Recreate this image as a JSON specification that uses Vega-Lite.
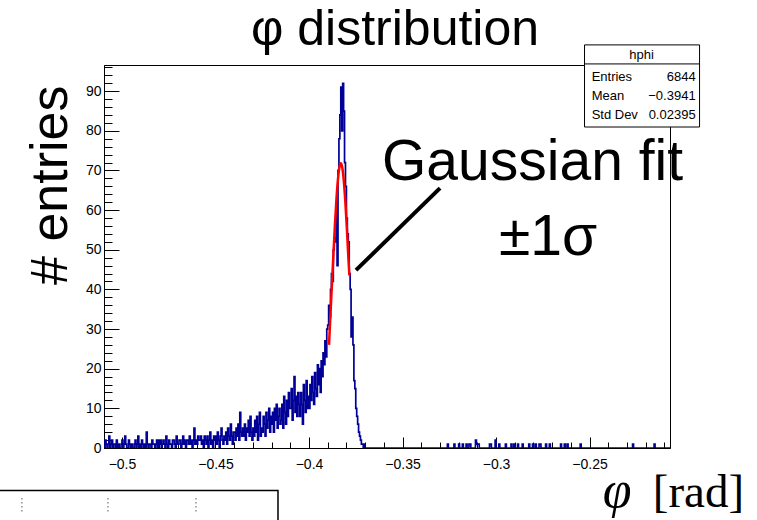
{
  "$schema": "https://vega.github.io/schema/vega-lite/v6.json",
  "width": 566,
  "height": 383,
  "autosize": {"type": "none"},
  "padding": {"left": 104, "top": 65, "right": 87, "bottom": 72},
  "background": "white",
  "title": {"text": "φ distribution", "fontSize": 50, "font": "Liberation Sans", "fontWeight": "normal", "color": "black", "offset": -11, "frame": "group", "anchor": "middle", "dx": 8},
  "datasets": {
    "hist": [
      {"x":-0.5100,"y":1},{"x":-0.5095,"y":0},{"x":-0.5090,"y":2},{"x":-0.5085,"y":1},{"x":-0.5080,"y":0},{"x":-0.5075,"y":1},{"x":-0.5070,"y":3},{"x":-0.5065,"y":0},{"x":-0.5060,"y":1},{"x":-0.5055,"y":2},
      {"x":-0.5050,"y":0},{"x":-0.5045,"y":1},{"x":-0.5040,"y":1},{"x":-0.5035,"y":0},{"x":-0.5030,"y":2},{"x":-0.5025,"y":0},{"x":-0.5020,"y":1},{"x":-0.5015,"y":0},{"x":-0.5010,"y":0},{"x":-0.5005,"y":1},
      {"x":-0.5000,"y":2},{"x":-0.4995,"y":0},{"x":-0.4990,"y":1},{"x":-0.4985,"y":3},{"x":-0.4980,"y":1},{"x":-0.4975,"y":0},{"x":-0.4970,"y":0},{"x":-0.4965,"y":2},{"x":-0.4960,"y":1},{"x":-0.4955,"y":0},
      {"x":-0.4950,"y":1},{"x":-0.4945,"y":0},{"x":-0.4940,"y":0},{"x":-0.4935,"y":1},{"x":-0.4930,"y":2},{"x":-0.4925,"y":0},{"x":-0.4920,"y":1},{"x":-0.4915,"y":3},{"x":-0.4910,"y":0},{"x":-0.4905,"y":1},
      {"x":-0.4900,"y":0},{"x":-0.4895,"y":2},{"x":-0.4890,"y":1},{"x":-0.4885,"y":0},{"x":-0.4880,"y":1},{"x":-0.4875,"y":0},{"x":-0.4870,"y":4},{"x":-0.4865,"y":1},{"x":-0.4860,"y":0},{"x":-0.4855,"y":1},
      {"x":-0.4850,"y":1},{"x":-0.4845,"y":0},{"x":-0.4840,"y":2},{"x":-0.4835,"y":1},{"x":-0.4830,"y":1},{"x":-0.4825,"y":0},{"x":-0.4820,"y":1},{"x":-0.4815,"y":2},{"x":-0.4810,"y":0},{"x":-0.4805,"y":2},
      {"x":-0.4800,"y":1},{"x":-0.4795,"y":2},{"x":-0.4790,"y":0},{"x":-0.4785,"y":1},{"x":-0.4780,"y":2},{"x":-0.4775,"y":1},{"x":-0.4770,"y":0},{"x":-0.4765,"y":3},{"x":-0.4760,"y":1},{"x":-0.4755,"y":0},
      {"x":-0.4750,"y":2},{"x":-0.4745,"y":1},{"x":-0.4740,"y":1},{"x":-0.4735,"y":0},{"x":-0.4730,"y":2},{"x":-0.4725,"y":2},{"x":-0.4720,"y":1},{"x":-0.4715,"y":0},{"x":-0.4710,"y":3},{"x":-0.4705,"y":1},
      {"x":-0.4700,"y":1},{"x":-0.4695,"y":2},{"x":-0.4690,"y":2},{"x":-0.4685,"y":0},{"x":-0.4680,"y":1},{"x":-0.4675,"y":3},{"x":-0.4670,"y":1},{"x":-0.4665,"y":2},{"x":-0.4660,"y":0},{"x":-0.4655,"y":2},
      {"x":-0.4650,"y":2},{"x":-0.4645,"y":1},{"x":-0.4640,"y":3},{"x":-0.4635,"y":1},{"x":-0.4630,"y":2},{"x":-0.4625,"y":0},{"x":-0.4620,"y":2},{"x":-0.4615,"y":5},{"x":-0.4610,"y":1},{"x":-0.4605,"y":2},
      {"x":-0.4600,"y":1},{"x":-0.4595,"y":3},{"x":-0.4590,"y":2},{"x":-0.4585,"y":2},{"x":-0.4580,"y":3},{"x":-0.4575,"y":1},{"x":-0.4570,"y":2},{"x":-0.4565,"y":0},{"x":-0.4560,"y":3},{"x":-0.4555,"y":2},
      {"x":-0.4550,"y":1},{"x":-0.4545,"y":3},{"x":-0.4540,"y":0},{"x":-0.4535,"y":2},{"x":-0.4530,"y":4},{"x":-0.4525,"y":1},{"x":-0.4520,"y":2},{"x":-0.4515,"y":0},{"x":-0.4510,"y":3},{"x":-0.4505,"y":2},
      {"x":-0.4500,"y":3},{"x":-0.4495,"y":1},{"x":-0.4490,"y":4},{"x":-0.4485,"y":2},{"x":-0.4480,"y":0},{"x":-0.4475,"y":3},{"x":-0.4470,"y":5},{"x":-0.4465,"y":2},{"x":-0.4460,"y":1},{"x":-0.4455,"y":3},
      {"x":-0.4450,"y":2},{"x":-0.4445,"y":4},{"x":-0.4440,"y":1},{"x":-0.4435,"y":5},{"x":-0.4430,"y":3},{"x":-0.4425,"y":2},{"x":-0.4420,"y":6},{"x":-0.4415,"y":3},{"x":-0.4410,"y":1},{"x":-0.4405,"y":4},
      {"x":-0.4400,"y":4},{"x":-0.4395,"y":2},{"x":-0.4390,"y":5},{"x":-0.4385,"y":3},{"x":-0.4380,"y":6},{"x":-0.4375,"y":2},{"x":-0.4370,"y":9},{"x":-0.4365,"y":4},{"x":-0.4360,"y":3},{"x":-0.4355,"y":5},
      {"x":-0.4350,"y":3},{"x":-0.4345,"y":6},{"x":-0.4340,"y":2},{"x":-0.4335,"y":5},{"x":-0.4330,"y":4},{"x":-0.4325,"y":7},{"x":-0.4320,"y":3},{"x":-0.4315,"y":8},{"x":-0.4310,"y":4},{"x":-0.4305,"y":2},
      {"x":-0.4300,"y":5},{"x":-0.4295,"y":3},{"x":-0.4290,"y":7},{"x":-0.4285,"y":4},{"x":-0.4280,"y":8},{"x":-0.4275,"y":2},{"x":-0.4270,"y":6},{"x":-0.4265,"y":9},{"x":-0.4260,"y":3},{"x":-0.4255,"y":5},
      {"x":-0.4250,"y":4},{"x":-0.4245,"y":8},{"x":-0.4240,"y":6},{"x":-0.4235,"y":3},{"x":-0.4230,"y":9},{"x":-0.4225,"y":5},{"x":-0.4220,"y":7},{"x":-0.4215,"y":10},{"x":-0.4210,"y":4},{"x":-0.4205,"y":8},
      {"x":-0.4200,"y":6},{"x":-0.4195,"y":9},{"x":-0.4190,"y":4},{"x":-0.4185,"y":10},{"x":-0.4180,"y":7},{"x":-0.4175,"y":11},{"x":-0.4170,"y":5},{"x":-0.4165,"y":8},{"x":-0.4160,"y":10},{"x":-0.4155,"y":6},
      {"x":-0.4150,"y":7},{"x":-0.4145,"y":11},{"x":-0.4140,"y":5},{"x":-0.4135,"y":13},{"x":-0.4130,"y":9},{"x":-0.4125,"y":6},{"x":-0.4120,"y":12},{"x":-0.4115,"y":8},{"x":-0.4110,"y":14},{"x":-0.4105,"y":10},
      {"x":-0.4100,"y":10},{"x":-0.4095,"y":15},{"x":-0.4090,"y":7},{"x":-0.4085,"y":12},{"x":-0.4080,"y":18},{"x":-0.4075,"y":9},{"x":-0.4070,"y":13},{"x":-0.4065,"y":8},{"x":-0.4060,"y":14},{"x":-0.4055,"y":11},
      {"x":-0.4050,"y":8},{"x":-0.4045,"y":14},{"x":-0.4040,"y":11},{"x":-0.4035,"y":6},{"x":-0.4030,"y":16},{"x":-0.4025,"y":12},{"x":-0.4020,"y":9},{"x":-0.4015,"y":17},{"x":-0.4010,"y":10},{"x":-0.4005,"y":13},
      {"x":-0.4000,"y":10},{"x":-0.3995,"y":16},{"x":-0.3990,"y":12},{"x":-0.3985,"y":18},{"x":-0.3980,"y":14},{"x":-0.3975,"y":11},{"x":-0.3970,"y":19},{"x":-0.3965,"y":15},{"x":-0.3960,"y":13},{"x":-0.3955,"y":21},
      {"x":-0.3950,"y":16},{"x":-0.3945,"y":20},{"x":-0.3940,"y":14},{"x":-0.3935,"y":22},{"x":-0.3930,"y":18},{"x":-0.3925,"y":24},{"x":-0.3920,"y":21},{"x":-0.3915,"y":27},{"x":-0.3910,"y":23},{"x":-0.3905,"y":30},
      {"x":-0.3900,"y":31},{"x":-0.3895,"y":36},{"x":-0.3890,"y":33},{"x":-0.3885,"y":40},{"x":-0.3880,"y":44},{"x":-0.3875,"y":42},{"x":-0.3870,"y":50},{"x":-0.3865,"y":53},{"x":-0.3860,"y":52},{"x":-0.3855,"y":62},
      {"x":-0.3850,"y":46},{"x":-0.3845,"y":70},{"x":-0.3840,"y":78},{"x":-0.3835,"y":84},{"x":-0.3830,"y":91},{"x":-0.3825,"y":80},{"x":-0.3820,"y":92},{"x":-0.3815,"y":85},{"x":-0.3810,"y":72},{"x":-0.3805,"y":66},
      {"x":-0.3800,"y":58},{"x":-0.3795,"y":54},{"x":-0.3790,"y":52},{"x":-0.3785,"y":44},{"x":-0.3780,"y":40},{"x":-0.3775,"y":28},{"x":-0.3770,"y":33},{"x":-0.3765,"y":26},{"x":-0.3760,"y":17},{"x":-0.3755,"y":15},
      {"x":-0.3750,"y":10},{"x":-0.3745,"y":8},{"x":-0.3740,"y":6},{"x":-0.3735,"y":4},{"x":-0.3730,"y":3},{"x":-0.3725,"y":2},{"x":-0.3720,"y":1},{"x":-0.3715,"y":1},{"x":-0.3710,"y":0},{"x":-0.3705,"y":1},
      {"x":-0.3700,"y":0},
      {"x":-0.3260,"y":1},{"x":-0.3255,"y":0},{"x":-0.3225,"y":1},{"x":-0.3220,"y":0},{"x":-0.3200,"y":1},{"x":-0.3195,"y":0},
      {"x":-0.3180,"y":1},{"x":-0.3175,"y":0},{"x":-0.3160,"y":1},{"x":-0.3155,"y":0},{"x":-0.3145,"y":1},{"x":-0.3140,"y":1},{"x":-0.3135,"y":0},
      {"x":-0.3110,"y":2},{"x":-0.3105,"y":1},{"x":-0.3100,"y":1},{"x":-0.3095,"y":1},{"x":-0.3090,"y":0},
      {"x":-0.3035,"y":1},{"x":-0.3030,"y":1},{"x":-0.3025,"y":0},{"x":-0.3005,"y":2},{"x":-0.3000,"y":0},{"x":-0.2985,"y":1},{"x":-0.2980,"y":0},
      {"x":-0.2950,"y":1},{"x":-0.2945,"y":0},{"x":-0.2920,"y":1},{"x":-0.2915,"y":0},{"x":-0.2905,"y":1},{"x":-0.2900,"y":0},{"x":-0.2885,"y":1},{"x":-0.2880,"y":0},
      {"x":-0.2860,"y":1},{"x":-0.2855,"y":0},{"x":-0.2825,"y":1},{"x":-0.2820,"y":0},{"x":-0.2805,"y":1},{"x":-0.2800,"y":0},{"x":-0.2790,"y":1},{"x":-0.2785,"y":0},
      {"x":-0.2770,"y":1},{"x":-0.2765,"y":1},{"x":-0.2760,"y":0},{"x":-0.2735,"y":1},{"x":-0.2730,"y":0},{"x":-0.2715,"y":1},{"x":-0.2710,"y":0},
      {"x":-0.2655,"y":1},{"x":-0.2650,"y":0},{"x":-0.2635,"y":1},{"x":-0.2630,"y":0},{"x":-0.2620,"y":1},{"x":-0.2615,"y":0},{"x":-0.2550,"y":1},{"x":-0.2545,"y":0},
      {"x":-0.2270,"y":1},{"x":-0.2265,"y":0},{"x":-0.2155,"y":1},{"x":-0.2150,"y":0},{"x":-0.2070,"y":0}
    ],
    "fit": [
      {"x":-0.3893,"y":26.0},{"x":-0.3885,"y":34.0},{"x":-0.3877,"y":41.6},{"x":-0.3869,"y":49.3},{"x":-0.3861,"y":56.6},
      {"x":-0.3853,"y":63.0},{"x":-0.3845,"y":67.9},{"x":-0.3837,"y":70.9},{"x":-0.3830,"y":71.8},{"x":-0.3822,"y":70.7},
      {"x":-0.3814,"y":67.4},{"x":-0.3806,"y":62.3},{"x":-0.3798,"y":55.8},{"x":-0.3790,"y":48.4},{"x":-0.3784,"y":43.5}
    ],
    "pointer": [{"x":-0.37487,"y":44.85},{"x":-0.32995,"y":65.56}],
    "bigtext": [
      {"x":-0.36096,"y":67.6,"t":"Gaussian fit"},
      {"x":-0.2984,"y":48.6,"t":"±1σ"}
    ],
    "statbox": [{"x":-0.2527,"x2":-0.1912,"y":101.67,"y2":80.96}],
    "statline": [{"x":-0.2527,"x2":-0.1912,"y":96.87}],
    "stattitle": [{"x":-0.2222,"y":99.14,"t":"hphi"}],
    "statlabels": [
      {"x":-0.2489,"y":93.59,"t":"Entries"},
      {"x":-0.2489,"y":88.79,"t":"Mean"},
      {"x":-0.2489,"y":83.99,"t":"Std Dev"}
    ],
    "statvalues": [
      {"x":-0.1933,"y":93.59,"t":"6844"},
      {"x":-0.1933,"y":88.79,"t":"−0.3941"},
      {"x":-0.1933,"y":83.99,"t":"0.02395"}
    ],
    "xphi": [{"x":-0.2352,"y":-15.0,"t":"φ"}],
    "xrad": [{"x":-0.16738,"y":-15.0,"t":"[rad]"}],
    "lowerbox": [{"x":-0.5660,"x2":-0.41658,"y":-10.7,"y2":-21.0}],
    "lowerdots": [
      {"x":-0.55348,"y":-12.7,"y2":-16.5},
      {"x":-0.50749,"y":-12.7,"y2":-16.5},
      {"x":-0.46043,"y":-12.7,"y2":-16.5}
    ]
  },
  "encoding": {
    "x": {
      "field": "x", "type": "quantitative",
      "scale": {"domain": [-0.5096, -0.207], "nice": false, "zero": false},
      "axis": {
        "title": null,
        "values": [-0.5,-0.49,-0.48,-0.47,-0.46,-0.45,-0.44,-0.43,-0.42,-0.41,-0.4,-0.39,-0.38,-0.37,-0.36,-0.35,-0.34,-0.33,-0.32,-0.31,-0.3,-0.29,-0.28,-0.27,-0.26,-0.25,-0.24,-0.23,-0.22,-0.21],
        "labelExpr": "abs(round(datum.value*100)) % 5 === 0 ? format(datum.value, '.2~f') : ''",
        "tickSize": {"condition": {"test": "abs(round(datum.value*100)) % 5 === 0", "value": -11}, "value": -6},
        "labelPadding": 20,
        "labelFontSize": 14, "labelFont": "Liberation Sans", "labelColor": "black",
        "labelFlush": false, "labelOverlap": false, "labelBound": false,
        "tickColor": "black", "domainColor": "black", "grid": false
      }
    },
    "y": {
      "field": "y", "type": "quantitative",
      "scale": {"domain": [0, 96.6], "nice": false, "zero": false},
      "axis": {
        "title": "# entries",
        "values": [0,2,4,6,8,10,12,14,16,18,20,22,24,26,28,30,32,34,36,38,40,42,44,46,48,50,52,54,56,58,60,62,64,66,68,70,72,74,76,78,80,82,84,86,88,90,92,94,96],
        "labelExpr": "datum.value % 10 === 0 ? format(datum.value, 'd') : ''",
        "tickSize": {"condition": {"test": "datum.value % 10 === 0", "value": -15}, "value": -8},
        "labelPadding": 18,
        "labelFontSize": 14, "labelFont": "Liberation Sans", "labelColor": "black",
        "labelFlush": false, "labelOverlap": false, "labelBound": false,
        "tickColor": "black", "domainColor": "black", "grid": false,
        "titleFontSize": 52, "titleFont": "Liberation Sans", "titleFontWeight": "normal", "titleColor": "black",
        "titleAnchor": "end", "titleAlign": "right", "titleBaseline": "alphabetic", "titleAngle": 270,
        "titleX": -38, "titleY": 20
      }
    }
  },
  "layer": [
    {"data": {"name": "lowerbox"}, "mark": {"type": "rect", "fill": null, "fillOpacity": 0, "stroke": "black", "strokeWidth": 1.5, "clip": false},
     "encoding": {"x2": {"field": "x2"}, "y2": {"field": "y2"}}},
    {"data": {"name": "lowerdots"}, "mark": {"type": "rule", "stroke": "black", "strokeWidth": 1, "strokeDash": [1, 3]},
     "encoding": {"y2": {"field": "y2"}}},
    {"data": {"name": "hist"}, "mark": {"type": "line", "interpolate": "step-after", "color": "#000096", "strokeWidth": 1.7, "clip": true}},
    {"data": {"name": "fit"}, "mark": {"type": "line", "interpolate": "monotone", "color": "#ff0000", "strokeWidth": 2.5}},
    {"data": {"name": "pointer"}, "mark": {"type": "line", "color": "black", "strokeWidth": 4}},
    {"data": {"name": "bigtext"}, "mark": {"type": "text", "align": "left", "baseline": "alphabetic", "font": "Liberation Sans", "fontSize": 57, "color": "black"},
     "encoding": {"text": {"field": "t"}}},
    {"data": {"name": "statbox"}, "mark": {"type": "rect", "fill": "white", "stroke": "black", "strokeWidth": 1},
     "encoding": {"x2": {"field": "x2"}, "y2": {"field": "y2"}}},
    {"data": {"name": "statline"}, "mark": {"type": "rule", "stroke": "black", "strokeWidth": 1},
     "encoding": {"x2": {"field": "x2"}}},
    {"data": {"name": "stattitle"}, "mark": {"type": "text", "align": "center", "baseline": "middle", "font": "Liberation Sans", "fontSize": 13, "color": "black"},
     "encoding": {"text": {"field": "t"}}},
    {"data": {"name": "statlabels"}, "mark": {"type": "text", "align": "left", "baseline": "middle", "font": "Liberation Sans", "fontSize": 13, "color": "black"},
     "encoding": {"text": {"field": "t"}}},
    {"data": {"name": "statvalues"}, "mark": {"type": "text", "align": "right", "baseline": "middle", "font": "Liberation Sans", "fontSize": 13, "color": "black"},
     "encoding": {"text": {"field": "t"}}},
    {"data": {"name": "xphi"}, "mark": {"type": "text", "align": "center", "baseline": "alphabetic", "font": "Liberation Serif", "fontStyle": "italic", "fontSize": 52, "color": "black"},
     "encoding": {"text": {"field": "t"}}},
    {"data": {"name": "xrad"}, "mark": {"type": "text", "align": "right", "baseline": "alphabetic", "font": "Liberation Serif", "fontSize": 47, "color": "black"},
     "encoding": {"text": {"field": "t"}}}
  ],
  "config": {
    "view": {"stroke": "black", "strokeWidth": 1},
    "font": "Liberation Sans",
    "axis": {"domainWidth": 1, "tickWidth": 1}
  }
}
